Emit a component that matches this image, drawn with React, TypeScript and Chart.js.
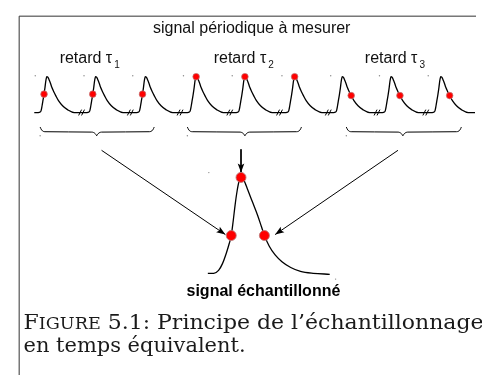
import React, { useEffect, useRef } from "react";
import { Chart, registerables } from "chart.js";

Chart.register(...registerables);

const W = 482;
const H = 381;

// ---- periodic signal (pulse train) ----
const PULSE_PEAKS_X = [42, 92, 143, 195, 245, 296, 345, 395, 446];
const TRAIN_BASELINE = 110;
const TRAIN_START_X = 29;
const TRAIN_END_X = 481;
const PULSE_DX = [-9, -7, -6, -5, -4, -3, -2, -1.2, -0.5, 0, 0.7, 1.5, 2.5, 3.5, 5, 7, 9, 12, 16, 21, 28];
const PULSE_AMP = [0, 0.5, 2, 7, 13, 19, 26, 32.5, 36, 37, 36.8, 35.5, 33, 30.5, 26, 21.5, 17.5, 12, 7, 3, 0];
const BREAK_X = [78, 128, 179, 230, 281, 331, 381, 431];
// sample taken on each pulse (index into PULSE_DX / PULSE_AMP)
const SAMPLE_IDX = [5, 5, 5, 9, 9, 9, 16, 16, 16];

// ---- braces ----
const BRACE_LEFT = [35, 186, 349];
const BRACE_TIP = [93, 245, 407];
const BRACE_RIGHT = [152, 303, 467];
const BRACE_END_Y = 125;
const BRACE_FLAT_Y = 130;
const BRACE_TIP_Y = 134;

// ---- arrows ----
const ARROW_FROM_X = [98, 241, 402];
const ARROW_FROM_Y = [149, 148, 149];
const ARROW_TO_X = [225, 241, 276];
const ARROW_TO_Y = [236, 172, 236];

// ---- sampled (reconstructed) signal ----
const SAMPLED_X = [207, 213, 218, 222, 226, 229, 231, 233, 235, 237, 239, 241, 244, 248, 253, 258, 262, 265, 270, 276, 283, 292, 302, 315, 332];
const SAMPLED_Y = [276, 276, 273, 266, 255, 245, 237, 222, 205, 191, 181, 177, 180, 190, 203, 216, 228, 237, 248, 257, 264, 270, 274, 276, 277];
const BIG_DOT_X = [231, 241, 265];
const BIG_DOT_Y = [237, 177, 237];

// ---- faint specks ----
const SPECK_X = [30, 80, 130, 182, 232, 283, 333, 383, 433, 35, 186, 349, 208, 338];
const SPECK_Y = [72, 72, 72, 72, 72, 72, 72, 72, 72, 134, 134, 134, 172, 282];

// ---- frame ----
const FRAME_X = [13.5, 13.5, 482];
const FRAME_Y = [381, 10.5, 10.5];

// ---- texts ----
const TITLE = "signal périodique à mesurer";
const TITLE_X = 252;
const TITLE_Y = 28;
const RETARD_LABEL = "retard τ";
const RETARD_X = [55, 213, 368];
const RETARD_Y = 59;
const RETARD_SUB = ["1", "2", "3"];
const SAMPLED_LABEL = "signal échantillonné";
const SAMPLED_LABEL_X = 264;
const SAMPLED_LABEL_Y = 299;
const CAPTION_LINE1 = [
  { text: "F", big: true },
  { text: "IGURE", big: false },
  { text: " 5.1: Principe de l’échantillonnage", big: true },
];
const CAPTION_LINE2 = "en temps équivalent.";
const CAPTION_X = 18;
const CAPTION_Y = [333, 357];
const CAPTION_W = [460, 222];

function buildTrain() {
  const pts: { x: number; y: number }[] = [{ x: TRAIN_START_X, y: TRAIN_BASELINE }];
  PULSE_PEAKS_X.forEach((p) => {
    PULSE_DX.forEach((d, i) => pts.push({ x: p + d, y: TRAIN_BASELINE - PULSE_AMP[i] }));
  });
  pts.push({ x: TRAIN_END_X, y: TRAIN_BASELINE });
  return pts;
}

function buildDatasets() {
  const ds: any[] = [];
  const line = (data: any[], extra: any = {}) => ({
    type: "scatter",
    data,
    showLine: true,
    borderColor: "#000",
    borderWidth: 1.2,
    pointRadius: 0,
    fill: false,
    order: 2,
    ...extra,
  });

  // frame
  ds.push(line(FRAME_X.map((x, i) => ({ x, y: FRAME_Y[i] })), { borderColor: "#333", borderWidth: 1, tension: 0 }));

  // train
  ds.push(line(buildTrain(), { cubicInterpolationMode: "monotone", borderWidth: 1.3 }));

  // break marks "//"
  BREAK_X.forEach((bx) => {
    [-2, 1].forEach((o) => {
      ds.push(line([
        { x: bx + o - 1.5, y: TRAIN_BASELINE + 3 },
        { x: bx + o + 1.5, y: TRAIN_BASELINE - 3 },
      ], { borderWidth: 1 }));
    });
  });

  // braces
  BRACE_LEFT.forEach((L, k) => {
    const T = BRACE_TIP[k];
    const R = BRACE_RIGHT[k];
    ds.push(line([
      { x: L, y: BRACE_END_Y },
      { x: L + 1.5, y: BRACE_END_Y + 3 },
      { x: L + 5, y: BRACE_FLAT_Y - 0.2 },
      { x: T - 5, y: BRACE_FLAT_Y + 0.2 },
      { x: T - 1.5, y: BRACE_FLAT_Y + 1.8 },
      { x: T, y: BRACE_TIP_Y },
    ], { cubicInterpolationMode: "monotone", borderWidth: 1 }));
    ds.push(line([
      { x: T, y: BRACE_TIP_Y },
      { x: T + 1.5, y: BRACE_FLAT_Y + 1.8 },
      { x: T + 5, y: BRACE_FLAT_Y + 0.2 },
      { x: R - 5, y: BRACE_FLAT_Y - 0.2 },
      { x: R - 1.5, y: BRACE_END_Y + 3 },
      { x: R, y: BRACE_END_Y },
    ], { cubicInterpolationMode: "monotone", borderWidth: 1 }));
  });

  // arrows (shafts)
  ARROW_FROM_X.forEach((fx, k) => {
    ds.push(line([
      { x: fx, y: ARROW_FROM_Y[k] },
      { x: ARROW_TO_X[k], y: ARROW_TO_Y[k] },
    ], { borderWidth: 1 }));
  });

  // sampled signal
  ds.push(line(SAMPLED_X.map((x, i) => ({ x, y: SAMPLED_Y[i] })), { cubicInterpolationMode: "monotone", borderWidth: 1.3 }));

  // small samples on pulse train
  ds.push({
    type: "scatter",
    data: PULSE_PEAKS_X.map((p, i) => ({
      x: p + PULSE_DX[SAMPLE_IDX[i]],
      y: TRAIN_BASELINE - PULSE_AMP[SAMPLE_IDX[i]],
    })),
    pointRadius: 3.3,
    pointBackgroundColor: "#ff0000",
    pointBorderColor: "rgba(190,120,120,0.9)",
    pointBorderWidth: 0.8,
    showLine: false,
    order: 0,
  });

  // big samples
  ds.push({
    type: "scatter",
    data: BIG_DOT_X.map((x, i) => ({ x, y: BIG_DOT_Y[i] })),
    pointRadius: 5,
    pointBackgroundColor: "#ff0000",
    pointBorderColor: "rgba(190,120,120,0.9)",
    pointBorderWidth: 1,
    showLine: false,
    order: 0,
  });

  // specks
  ds.push({
    type: "scatter",
    data: SPECK_X.map((x, i) => ({ x, y: SPECK_Y[i] })),
    pointRadius: 0.7,
    pointBackgroundColor: "#888",
    pointBorderWidth: 0,
    showLine: false,
    order: 3,
  });
  return ds;
}

const diagramPlugin = {
  id: "diagramPlugin",
  afterDatasetsDraw(chart: any) {
    const ctx: CanvasRenderingContext2D = chart.ctx;
    const xs = chart.scales.x;
    const ys = chart.scales.y;
    const px = (v: number) => xs.getPixelForValue(v);
    const py = (v: number) => ys.getPixelForValue(v);
    ctx.save();

    // arrowheads
    ctx.fillStyle = "#000";
    ARROW_FROM_X.forEach((fx, k) => {
      const x0 = px(fx), y0 = py(ARROW_FROM_Y[k]);
      const x1 = px(ARROW_TO_X[k]), y1 = py(ARROW_TO_Y[k]);
      const len = Math.hypot(x1 - x0, y1 - y0);
      const ux = (x1 - x0) / len, uy = (y1 - y0) / len;
      const nx = -uy, ny = ux;
      const hl = 9, hw = 3.3;
      ctx.beginPath();
      ctx.moveTo(x1, y1);
      ctx.lineTo(x1 - ux * hl + nx * hw, y1 - uy * hl + ny * hw);
      ctx.lineTo(x1 - ux * hl * 0.8, y1 - uy * hl * 0.8);
      ctx.lineTo(x1 - ux * hl - nx * hw, y1 - uy * hl - ny * hw);
      ctx.closePath();
      ctx.fill();
    });

    // title
    ctx.fillStyle = "#111";
    ctx.textBaseline = "alphabetic";
    ctx.textAlign = "center";
    ctx.font = '16px "Liberation Sans", Arial, sans-serif';
    ctx.fillText(TITLE, px(TITLE_X), py(TITLE_Y));

    // retard labels
    ctx.textAlign = "left";
    RETARD_X.forEach((rx, k) => {
      ctx.font = '16px "Liberation Sans", Arial, sans-serif';
      ctx.fillText(RETARD_LABEL, px(rx), py(RETARD_Y));
      const w = ctx.measureText(RETARD_LABEL).width;
      ctx.font = '10px "Liberation Sans", Arial, sans-serif';
      ctx.fillText(RETARD_SUB[k], px(rx) + w + 2, py(RETARD_Y) + 5);
    });

    // sampled label
    ctx.textAlign = "center";
    ctx.fillStyle = "#000";
    ctx.font = 'bold 16px "Liberation Sans", Arial, sans-serif';
    ctx.fillText(SAMPLED_LABEL, px(SAMPLED_LABEL_X), py(SAMPLED_LABEL_Y));

    // caption
    ctx.textAlign = "left";
    ctx.fillStyle = "#1a1a1a";
    const bigFont = '20px "DejaVu Serif", serif';
    const smallFont = '16px "DejaVu Serif", serif';
    const drawRuns = (runs: { text: string; font: string }[], x: number, y: number, target: number) => {
      let total = 0;
      runs.forEach((r) => { ctx.font = r.font; total += ctx.measureText(r.text).width; });
      const s = target / total;
      ctx.save();
      ctx.translate(x, y);
      ctx.scale(s, 1);
      let cx = 0;
      runs.forEach((r) => {
        ctx.font = r.font;
        ctx.fillText(r.text, cx, 0);
        cx += ctx.measureText(r.text).width;
      });
      ctx.restore();
    };
    drawRuns(
      CAPTION_LINE1.map((r) => ({ text: r.text, font: r.big ? bigFont : smallFont })),
      px(CAPTION_X), py(CAPTION_Y[0]), CAPTION_W[0]
    );
    drawRuns([{ text: CAPTION_LINE2, font: bigFont }], px(CAPTION_X), py(CAPTION_Y[1]), CAPTION_W[1]);

    ctx.restore();
  },
};

export default function App() {
  const canvasRef = useRef<HTMLCanvasElement | null>(null);
  useEffect(() => {
    if (!canvasRef.current) return;
    const chart = new Chart(canvasRef.current, {
      type: "scatter",
      data: { datasets: buildDatasets() },
      options: {
        animation: false,
        responsive: false,
        maintainAspectRatio: false,
        devicePixelRatio: 1,
        layout: { padding: 0 },
        events: [],
        plugins: { legend: { display: false }, tooltip: { enabled: false }, title: { display: false } },
        scales: {
          x: { type: "linear", min: 0, max: W, display: false },
          y: { type: "linear", min: 0, max: H, reverse: true, display: false },
        },
      } as any,
      plugins: [diagramPlugin],
    });
    return () => chart.destroy();
  }, []);
  return (
    <div style={{ position: "fixed", left: 0, top: 0, width: W, height: H, background: "#fff" }}>
      <canvas ref={canvasRef} width={W} height={H} style={{ display: "block", width: W, height: H }} />
    </div>
  );
}
